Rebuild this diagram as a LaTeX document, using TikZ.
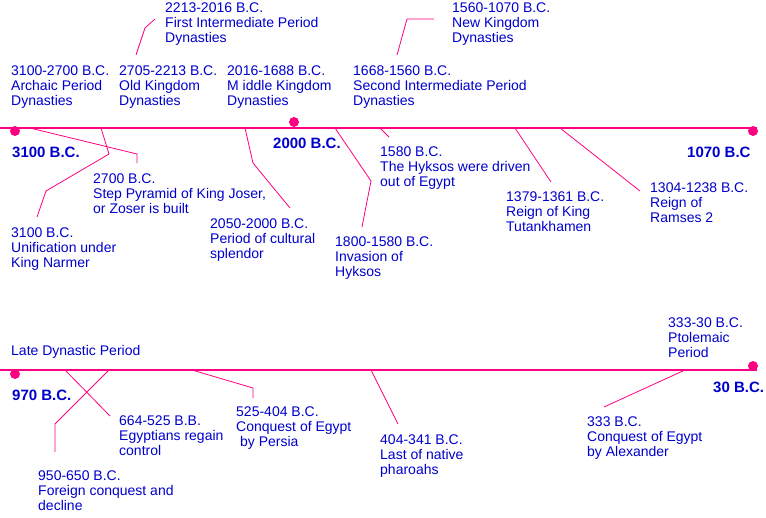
\documentclass[tikz,border=0pt]{standalone}
\usepackage{fontspec}
\setmainfont{Liberation Sans}
\definecolor{pk}{RGB}{255,0,128}
\definecolor{bl}{RGB}{0,0,204}
\begin{document}
\begin{tikzpicture}[x=1pt,y=-1pt,
  lbl/.style={anchor=north west, inner sep=0pt, align=left, text=bl, font=\fontsize{14}{15}\selectfont},
  yr/.style={anchor=west, inner sep=0pt, text=bl, font=\bfseries\fontsize{15}{17}\selectfont},
  lead/.style={draw=pk, line width=0.8pt},
  axisline/.style={draw=pk, line width=1.2pt},
  dotmark/.style={circle, fill=pk, inner sep=0pt, minimum size=10pt}]
\useasboundingbox (0,0) rectangle (766,517);
% axes
\coordinate (tl) at (0,128);
\coordinate (tr) at (757,128);
\coordinate (bl) at (0,370);
\coordinate (br) at (757,370);
\draw[axisline] (tl) -- (tr);
\draw[axisline] (bl) -- (br);
\node[dotmark] (d1) at (15,131) {};
\node[dotmark] (d2) at (294,122) {};
\node[dotmark] (d3) at (753,131) {};
\node[dotmark] (d4) at (15,374) {};
\node[dotmark] (d5) at (753,366) {};
% year labels
\node[yr] (y3100) at (12,152) {3100 B.C.};
\node[yr] (y2000) at (273,143) {2000 B.C.};
\node[yr] (y1070) at (687,152) {1070 B.C};
\node[yr] (y970) at (12,395) {970 B.C.};
\node[yr] (y30) at (713,387) {30 B.C.};
% top texts
\node[lbl] (archaic) at (11,66) {3100-2700 B.C.\\Archaic Period\\Dynasties};
\node[lbl] (old) at (119,66) {2705-2213 B.C.\\Old Kingdom\\Dynasties};
\node[lbl] (middle) at (227,66) {2016-1688 B.C.\\M iddle Kingdom\\Dynasties};
\node[lbl] (second) at (353,66) {1668-1560 B.C.\\Second Intermediate Period\\Dynasties};
\node[lbl] (first) at (165,3) {2213-2016 B.C.\\First Intermediate Period\\Dynasties};
\node[lbl] (newk) at (452,3) {1560-1070 B.C.\\New Kingdom\\Dynasties};
% below top axis
\node[lbl] (pyr) at (93,174) {2700 B.C.\\Step Pyramid of King Joser,\\or Zoser is built};
\node[lbl] (unif) at (11,228) {3100 B.C.\\Unification under\\King Narmer};
\node[lbl] (splendor) at (210,219) {2050-2000 B.C.\\Period of cultural\\splendor};
\node[lbl] (hinv) at (335,237) {1800-1580 B.C.\\Invasion of\\Hyksos};
\node[lbl] (hout) at (380,147) {1580 B.C.\\The Hyksos were driven\\out of Egypt};
\node[lbl] (tut) at (506,192) {1379-1361 B.C.\\Reign of King\\Tutankhamen};
\node[lbl] (ram) at (650,183) {1304-1238 B.C.\\Reign of\\Ramses 2};
% bottom
\node[lbl] (late) at (11,345) {Late Dynastic Period};
\node[lbl] (ptol) at (668,318) {333-30 B.C.\\Ptolemaic\\Period};
\node[lbl] (foreign) at (38,471) {950-650 B.C.\\Foreign conquest and\\decline};
\node[lbl] (regain) at (119,416) {664-525 B.B.\\Egyptians regain\\control};
\node[lbl] (persia) at (236,407) {525-404 B.C.\\Conquest of Egypt\\\ by Persia};
\node[lbl] (native) at (380,435) {404-341 B.C.\\Last of native\\pharoahs};
\node[lbl] (alex) at (587,417) {333 B.C.\\Conquest of Egypt\\by Alexander};
% leader coordinates
\coordinate (fA) at (136,55); \coordinate (fB) at (145,28); \coordinate (fC) at (155,19);
\coordinate (nA) at (397,55); \coordinate (nB) at (407,19); \coordinate (nC) at (434,19);
\coordinate (uA) at (101,128); \coordinate (uB) at (109,154); \coordinate (uC) at (46,191); \coordinate (uD) at (37,217);
\coordinate (pA) at (30,128); \coordinate (pB) at (137,154); \coordinate (pC) at (137,163);
\coordinate (sA) at (245,128); \coordinate (sB) at (253,163); \coordinate (sC) at (290,208);
\coordinate (hiA) at (335,128); \coordinate (hiB) at (371,181); \coordinate (hiC) at (362,227);
\coordinate (hoA) at (380,128); \coordinate (hoB) at (389,137);
\coordinate (tA) at (515,128); \coordinate (tB) at (551,182);
\coordinate (rA) at (560,128); \coordinate (rB) at (640,191);
\coordinate (foA) at (109,370); \coordinate (foB) at (55,424); \coordinate (foC) at (55,452);
\coordinate (reA) at (65,370); \coordinate (reB) at (110,416);
\coordinate (peA) at (192,370); \coordinate (peB) at (253,388); \coordinate (peC) at (253,398);
\coordinate (naA) at (371,370); \coordinate (naB) at (398,424);
\coordinate (alA) at (685,370); \coordinate (alB) at (604,407);
% leaders
\draw[lead] (fA) -- (fB) -- (fC);
\draw[lead] (nA) -- (nB) -- (nC);
\draw[lead] (uA) -- (uB) -- (uC) -- (uD);
\draw[lead] (pA) -- (pB) -- (pC);
\draw[lead] (sA) -- (sB) -- (sC);
\draw[lead] (hiA) -- (hiB) -- (hiC);
\draw[lead] (hoA) -- (hoB);
\draw[lead] (tA) -- (tB);
\draw[lead] (rA) -- (rB);
\draw[lead] (foA) -- (foB) -- (foC);
\draw[lead] (reA) -- (reB);
\draw[lead] (peA) -- (peB) -- (peC);
\draw[lead] (naA) -- (naB);
\draw[lead] (alA) -- (alB);
\end{tikzpicture}
\end{document}
